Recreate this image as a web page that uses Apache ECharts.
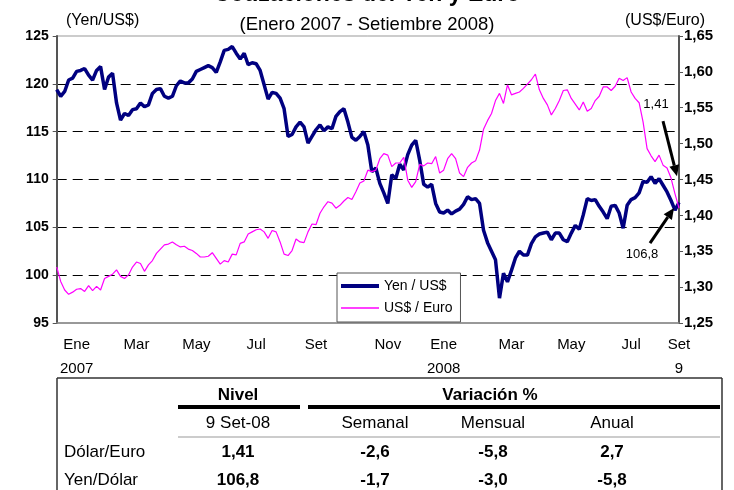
<!DOCTYPE html>
<html>
<head>
<meta charset="utf-8">
<script src="https://cdn.jsdelivr.net/npm/echarts@6/dist/echarts.min.js"></script>
<style>
html, body { margin: 0; padding: 0; background: #fff; }
#chart { width: 734px; height: 490px; }
</style>
</head>
<body>
<div id="chart"></div>
<script>
const FONT = 'Liberation Sans, Arial, sans-serif';

// Yen per US$ (left axis), Jan 2007 - 9 Sep 2008
const yenUsd = [
  119.4, 118.7, 119.2, 120.4, 120.6, 121.3, 121.4, 121.6, 120.9, 120.4,
  121.4, 121.8, 119.4, 120.7, 121.1, 118.0, 116.2, 116.9, 116.7, 117.3,
  117.4, 118.0, 117.6, 117.8, 119.0, 119.4, 119.5, 118.7, 118.5, 118.7,
  119.8, 120.3, 120.1, 120.1, 120.5, 121.3, 121.5, 121.7, 121.9, 121.7,
  121.2, 122.3, 123.5, 123.6, 123.9, 123.2, 122.6, 123.2, 122.0, 122.2,
  122.1, 121.4, 119.9, 118.4, 119.1, 119.0, 118.5, 117.4, 114.5, 114.7,
  115.5, 116.0, 115.5, 113.8, 114.5, 115.2, 115.7, 115.1, 115.5, 115.3,
  116.6, 117.1, 117.4, 116.0, 114.4, 114.1, 114.5, 115.0, 113.6, 110.8,
  111.2, 109.6, 108.6, 107.5, 110.5, 110.1, 111.6, 111.0, 112.6, 113.6,
  114.1, 112.0, 109.5, 109.2, 109.5, 107.5, 106.6, 106.5, 106.8, 106.4,
  106.7, 106.9, 107.4, 108.2, 107.9, 108.0, 107.5, 104.7, 103.4, 102.5,
  101.6, 97.6, 100.2, 99.3, 100.5, 101.8, 102.5, 102.1, 102.1, 103.3,
  104.0, 104.3, 104.4, 104.5, 103.7, 104.4, 104.4, 103.7, 103.5, 104.4,
  105.2, 104.8, 106.3, 108.0, 107.8, 107.9, 107.2, 106.6, 105.9, 107.2,
  107.3, 106.5, 104.9, 107.3, 107.9, 108.1, 108.6, 109.8, 109.7, 110.3,
  109.6, 110.1, 109.4, 108.7, 107.8, 106.8, 107.6
];

// US$ per Euro (right axis)
const usdEuro = [
  1.328, 1.308, 1.296, 1.290, 1.293, 1.297, 1.298, 1.294, 1.302, 1.295,
  1.301, 1.296, 1.312, 1.315, 1.318, 1.324, 1.315, 1.312, 1.317, 1.328,
  1.335, 1.333, 1.322, 1.331, 1.337, 1.347, 1.353, 1.359, 1.360, 1.363,
  1.359, 1.356, 1.357, 1.353, 1.351, 1.347, 1.342, 1.342, 1.343, 1.348,
  1.340, 1.332, 1.337, 1.335, 1.346, 1.345, 1.361, 1.363, 1.374, 1.377,
  1.380, 1.381, 1.377, 1.368, 1.379, 1.377, 1.363, 1.346, 1.344, 1.351,
  1.367, 1.363, 1.362, 1.377, 1.388, 1.387, 1.403, 1.412, 1.419, 1.417,
  1.410, 1.414, 1.420, 1.425, 1.422, 1.433, 1.445, 1.448, 1.463, 1.461,
  1.463, 1.479, 1.486, 1.484, 1.468, 1.473, 1.473, 1.481, 1.449, 1.439,
  1.447, 1.471, 1.469, 1.473, 1.472, 1.482, 1.459, 1.463, 1.479, 1.486,
  1.479, 1.459, 1.454, 1.467, 1.473, 1.476, 1.491, 1.520, 1.532, 1.542,
  1.560, 1.570, 1.556, 1.582, 1.568, 1.570, 1.572, 1.577, 1.583, 1.589,
  1.597, 1.575, 1.563, 1.554, 1.540, 1.549, 1.560, 1.574, 1.575, 1.563,
  1.555, 1.547, 1.558, 1.545, 1.549, 1.560, 1.566, 1.579, 1.579, 1.574,
  1.580, 1.591, 1.588, 1.592, 1.572, 1.563, 1.557, 1.530, 1.493, 1.483,
  1.475, 1.484, 1.470, 1.466, 1.452, 1.430, 1.410
];

// x categories: dates spread from 2 Jan 2007 to 9 Sep 2008
const startDate = Date.UTC(2007, 0, 2);
const endDate = Date.UTC(2008, 8, 9);
const dates = yenUsd.map((_, i) => {
  const t = startDate + Math.round(i * (endDate - startDate) / (yenUsd.length - 1) / 864e5) * 864e5;
  return new Date(t).toISOString().slice(0, 10);
});

// month labels on the x axis (index in dates -> text)
const tickIdx  = [5, 20, 35, 50, 65, 83, 97, 114, 129, 144, 156];
const tickText = ['Ene\n2007', 'Mar', 'May', 'Jul', 'Set', 'Nov', 'Ene\n2008', 'Mar', 'May', 'Jul', 'Set\n9'];

// table under the chart
const rowNames = ['Dólar/Euro', 'Yen/Dólar'];
const nivel    = [1.41, 106.8];
const nivelDec = [2, 1];
const semanal  = [-2.6, -1.7];
const mensual  = [-5.8, -3.0];
const anual    = [2.7, -5.8];

const fmt = (v, d) => v.toFixed(d).replace('.', ',');

const chart = echarts.init(document.getElementById('chart'));

function txt(text, x, y, opts) {
  return {
    type: 'text', z: 50,
    style: Object.assign({
      text: text, x: x, y: y, fill: '#000',
      fontFamily: FONT, fontSize: 17, align: 'center', verticalAlign: 'middle'
    }, opts || {})
  };
}
function seg(x1, y1, x2, y2, w, c) {
  return { type: 'line', z: 50, shape: { x1, y1, x2, y2 }, style: { stroke: c || '#000', lineWidth: w } };
}

const cols = [238, 375, 493, 612];
const rowsY = [452, 480];
const table = [
  seg(57, 378, 722, 378, 1.5, '#333'),
  seg(57, 378, 57, 490, 1.5, '#333'),
  seg(722, 378, 722, 490, 1.5, '#333'),
  txt('Nivel', cols[0], 395, { fontWeight: 'bold' }),
  txt('Variación %', 490, 395, { fontWeight: 'bold' }),
  seg(178, 407, 300, 407, 4),
  seg(308, 407, 720, 407, 4),
  txt('9 Set-08', cols[0], 423),
  txt('Semanal', cols[1], 423),
  txt('Mensual', cols[2], 423),
  txt('Anual', cols[3], 423),
  seg(178, 437, 720, 437, 1, '#999')
];
rowNames.forEach((name, r) => {
  const y = rowsY[r];
  table.push(txt(name, 64, y, { align: 'left' }));
  table.push(txt(fmt(nivel[r], nivelDec[r]), cols[0], y, { fontWeight: 'bold' }));
  table.push(txt(fmt(semanal[r], 1), cols[1], y, { fontWeight: 'bold' }));
  table.push(txt(fmt(mensual[r], 1), cols[2], y, { fontWeight: 'bold' }));
  table.push(txt(fmt(anual[r], 1), cols[3], y, { fontWeight: 'bold' }));
});

chart.setOption({
  animation: false,
  title: [
    { text: 'Cotizaciones del Yen y Euro', left: 'center', top: -22,
      textStyle: { fontFamily: FONT, fontSize: 23, fontWeight: 'bold', color: '#000' } },
    { text: '(Enero 2007 - Setiembre 2008)', left: 'center', top: 10,
      textStyle: { fontFamily: FONT, fontSize: 18.5, fontWeight: 'normal', color: '#000' } },
    { text: '(Yen/US$)', left: 61, top: 8,
      textStyle: { fontFamily: FONT, fontSize: 16, fontWeight: 'normal', color: '#000' } },
    { text: '(US$/Euro)', left: 620, top: 8,
      textStyle: { fontFamily: FONT, fontSize: 16, fontWeight: 'normal', color: '#000' } }
  ],
  grid: {
    left: 56.7, right: 55, top: 36, bottom: 167,
    show: true, borderColor: '#999', borderWidth: 1
  },
  legend: {
    left: 337, top: 273, orient: 'vertical',
    padding: [6, 8, 7, 2], itemGap: 8, itemWidth: 38, itemHeight: 14,
    backgroundColor: '#fff', borderColor: '#555', borderWidth: 1,
    itemStyle: { opacity: 0 },
    textStyle: { fontFamily: FONT, fontSize: 14, color: '#000' },
    data: [
      { name: 'Yen / US$', lineStyle: { width: 4 } },
      { name: 'US$ / Euro', lineStyle: { width: 1.5 } }
    ]
  },
  xAxis: {
    type: 'category', data: dates, boundaryGap: false,
    axisLine: { lineStyle: { color: '#888', width: 1.5 } },
    axisTick: { show: false },
    splitLine: { show: false },
    axisLabel: {
      interval: (i) => tickIdx.includes(i),
      formatter: (v, i) => tickText[tickIdx.indexOf(i)],
      fontFamily: FONT, fontSize: 15, lineHeight: 24, color: '#000', margin: 10
    }
  },
  yAxis: [
    {
      type: 'value', min: 95, max: 125, interval: 5,
      axisLine: { show: true, lineStyle: { color: '#555', width: 2 } },
      axisTick: { show: true, length: 4, lineStyle: { color: '#555' } },
      axisLabel: { fontFamily: FONT, fontSize: 14, fontWeight: 'bold', color: '#000', margin: 8 },
      splitLine: { show: true, showMinLine: false, showMaxLine: false,
        lineStyle: { color: '#000', type: [10, 6], width: 1 } }
    },
    {
      type: 'value', min: 1.25, max: 1.65, interval: 0.05,
      axisLine: { show: true, lineStyle: { color: '#555', width: 2 } },
      axisTick: { show: true, length: 4, lineStyle: { color: '#555' } },
      axisLabel: { fontFamily: FONT, fontSize: 15, fontWeight: 'bold', color: '#000', margin: 5,
        formatter: (v) => fmt(v, 2) },
      splitLine: { show: false }
    }
  ],
  series: [
    { name: 'Yen / US$', type: 'line', yAxisIndex: 0, data: yenUsd,
      symbol: 'none', lineStyle: { color: '#000080', width: 3.5 }, itemStyle: { color: '#000080' } },
    { name: 'US$ / Euro', type: 'line', yAxisIndex: 1, data: usdEuro,
      symbol: 'none', lineStyle: { color: '#ff00ff', width: 1.2 }, itemStyle: { color: '#ff00ff' } }
  ],
  graphic: table
});

// arrows pointing at the last values
function arrow(x1, y1, x2, y2) {
  const a = Math.atan2(y2 - y1, x2 - x1);
  const hl = 11, hw = 5;
  const bx = x2 - hl * Math.cos(a), by = y2 - hl * Math.sin(a);
  const px = -Math.sin(a), py = Math.cos(a);
  return [
    { type: 'line', z: 100, shape: { x1, y1, x2: bx, y2: by }, style: { stroke: '#000', lineWidth: 3 } },
    { type: 'polygon', z: 100, shape: { points: [[x2, y2], [bx + px * hw, by + py * hw], [bx - px * hw, by - py * hw]] },
      style: { fill: '#000' } }
  ];
}
const last = usdEuro.length - 1;
const pE = chart.convertToPixel({ xAxisIndex: 0, yAxisIndex: 1 }, [last, usdEuro[last]]);
const pY = chart.convertToPixel({ xAxisIndex: 0, yAxisIndex: 0 }, [last - 1, yenUsd[last - 1]]);
const notes = []
  .concat(arrow(pE[0] - 16, pE[1] - 87, pE[0] - 2, pE[1] - 32))
  .concat(arrow(pY[0] - 25, pY[1] + 33, pY[0] - 1, pY[1] - 2))
  .concat([
    txt(fmt(nivel[0], 2), pE[0] - 23, pE[1] - 104, { fontSize: 13 }),
    txt(fmt(nivel[1], 1), pY[0] - 33, pY[1] + 44, { fontSize: 13 })
  ]);
chart.setOption({ graphic: table.concat(notes) });
</script>
</body>
</html>
